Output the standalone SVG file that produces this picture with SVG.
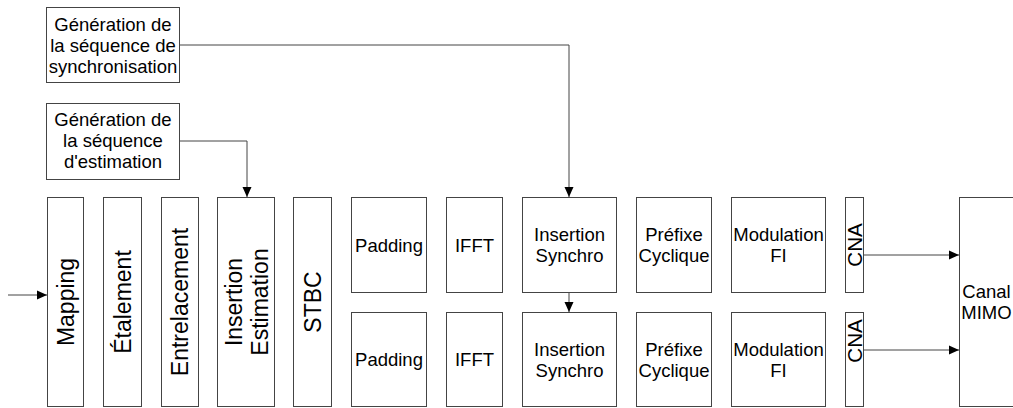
<svg xmlns="http://www.w3.org/2000/svg" width="1013" height="408" viewBox="0 0 1013 408">
<style>
  .box { fill: #ffffff; stroke: #444444; stroke-width: 1; }
  .t { font-family: "Liberation Sans", Arial, sans-serif; font-size: 18.5px; fill: #000000; text-anchor: middle; }
  .v { font-family: "Liberation Sans", Arial, sans-serif; font-size: 23px; fill: #000000; text-anchor: middle; }
  .c { font-family: "Liberation Sans", Arial, sans-serif; font-size: 20.5px; fill: #000000; text-anchor: middle; }
  .ln { fill: none; stroke: #444444; stroke-width: 1; }
</style>
<defs>
  <marker id="arr" markerUnits="userSpaceOnUse" markerWidth="10" markerHeight="10" refX="10" refY="5" orient="auto">
    <path d="M0,0.5 L10,5 L0,9.5 z" fill="#000000"/>
  </marker>
</defs>
<rect width="1013" height="408" fill="#ffffff"/>

<g id="connectors">
  <path class="ln" d="M180,45 H569 V197" marker-end="url(#arr)"/>
  <path class="ln" d="M180,141 H247 V197" marker-end="url(#arr)"/>
  <path class="ln" d="M8,295 H47" marker-end="url(#arr)"/>
  <path class="ln" d="M569,293 V312" marker-end="url(#arr)"/>
  <path class="ln" d="M864,255 H959" marker-end="url(#arr)"/>
  <path class="ln" d="M864,350 H959" marker-end="url(#arr)"/>
</g>

<g id="gen-sync">
  <rect class="box" x="46.5" y="7.5" width="133" height="75"/>
  <text class="t" x="113" y="31">Génération de</text>
  <text class="t" x="113" y="52">la séquence de</text>
  <text class="t" x="113" y="73">synchronisation</text>
</g>
<g id="gen-estim">
  <rect class="box" x="46.5" y="103.5" width="133" height="76"/>
  <text class="t" x="113" y="126">Génération de</text>
  <text class="t" x="113" y="147">la séquence</text>
  <text class="t" x="113" y="168">d'estimation</text>
</g>

<g id="mapping">
  <rect class="box" x="47.5" y="197.5" width="36" height="209"/>
  <text class="v" transform="translate(73.5,302) rotate(-90)">Mapping</text>
</g>
<g id="etalement">
  <rect class="box" x="103.5" y="197.5" width="38" height="209"/>
  <text class="v" transform="translate(130.5,302) rotate(-90)">Étalement</text>
</g>
<g id="entrelacement">
  <rect class="box" x="161.5" y="197.5" width="37" height="209"/>
  <text class="v" transform="translate(188,302) rotate(-90)">Entrelacement</text>
</g>
<g id="insertion-estimation">
  <rect class="box" x="217.5" y="197.5" width="57" height="209"/>
  <text class="v" transform="translate(242,302) rotate(-90)">Insertion</text>
  <text class="v" transform="translate(268,302) rotate(-90)">Estimation</text>
</g>
<g id="stbc">
  <rect class="box" x="293.5" y="197.5" width="38" height="209"/>
  <text class="v" transform="translate(321,302) rotate(-90)">STBC</text>
</g>

<g id="padding-1">
  <rect class="box" x="351.5" y="197.5" width="75" height="95"/>
  <text class="t" x="389" y="251.5">Padding</text>
</g>
<g id="padding-2">
  <rect class="box" x="351.5" y="312.5" width="75" height="94"/>
  <text class="t" x="389" y="366">Padding</text>
</g>
<g id="ifft-1">
  <rect class="box" x="446.5" y="197.5" width="56" height="95"/>
  <text class="t" x="474.5" y="251.5">IFFT</text>
</g>
<g id="ifft-2">
  <rect class="box" x="446.5" y="312.5" width="56" height="94"/>
  <text class="t" x="474.5" y="366">IFFT</text>
</g>
<g id="insertion-synchro-1">
  <rect class="box" x="522.5" y="197.5" width="94" height="95"/>
  <text class="t" x="569.5" y="241">Insertion</text>
  <text class="t" x="569.5" y="262">Synchro</text>
</g>
<g id="insertion-synchro-2">
  <rect class="box" x="522.5" y="312.5" width="94" height="94"/>
  <text class="t" x="569.5" y="355.5">Insertion</text>
  <text class="t" x="569.5" y="376.5">Synchro</text>
</g>
<g id="prefixe-1">
  <rect class="box" x="636.5" y="197.5" width="75" height="95"/>
  <text class="t" x="674" y="241">Préfixe</text>
  <text class="t" x="674" y="262">Cyclique</text>
</g>
<g id="prefixe-2">
  <rect class="box" x="636.5" y="312.5" width="75" height="94"/>
  <text class="t" x="674" y="355.5">Préfixe</text>
  <text class="t" x="674" y="376.5">Cyclique</text>
</g>
<g id="modulation-1">
  <rect class="box" x="731.5" y="197.5" width="94" height="95"/>
  <text class="t" x="778.5" y="241">Modulation</text>
  <text class="t" x="778.5" y="262">FI</text>
</g>
<g id="modulation-2">
  <rect class="box" x="731.5" y="312.5" width="94" height="94"/>
  <text class="t" x="778.5" y="355.5">Modulation</text>
  <text class="t" x="778.5" y="376.5">FI</text>
</g>
<g id="cna-1">
  <rect class="box" x="845.5" y="197.5" width="18" height="95"/>
  <text class="c" transform="translate(862,245) rotate(-90)">CNA</text>
</g>
<g id="cna-2">
  <rect class="box" x="845.5" y="312.5" width="18" height="94"/>
  <text class="c" transform="translate(862,341) rotate(-90)">CNA</text>
</g>
<g id="canal-mimo">
  <rect class="box" x="959.5" y="197.5" width="55" height="209"/>
  <text class="t" x="986.5" y="298">Canal</text>
  <text class="t" x="986.5" y="319">MIMO</text>
</g>
</svg>
